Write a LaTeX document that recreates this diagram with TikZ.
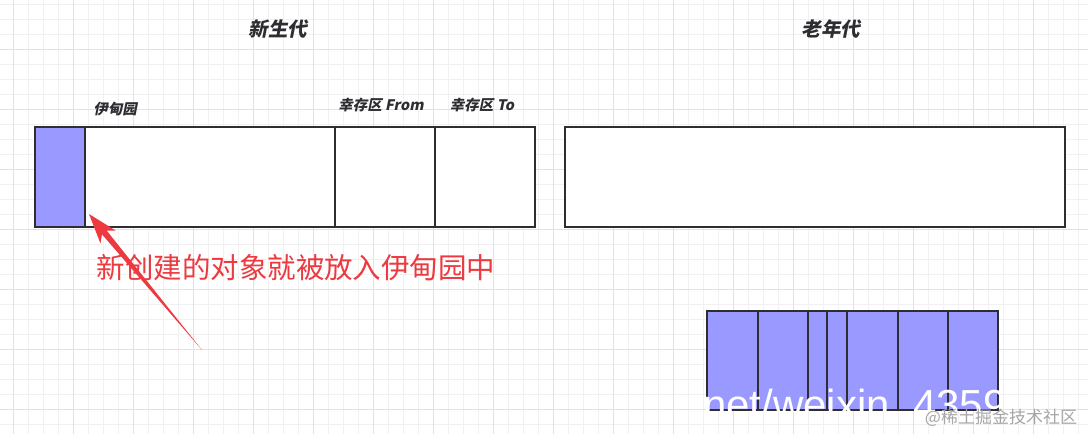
\documentclass[tikz,border=0pt]{standalone}
\usepackage{fontspec}
\setmainfont{Liberation Sans}
\newfontfamily\cjk{Noto Sans CJK SC}
\newfontfamily\cjkslant{Noto Sans CJK SC}[FakeSlant=0.2]
\usetikzlibrary{calc}

\definecolor{objblue}{RGB}{153,153,255}
\definecolor{boxline}{RGB}{45,45,50}
\definecolor{notered}{RGB}{236,58,64}
\definecolor{gridminor}{RGB}{241,241,241}
\definecolor{gridmajor}{RGB}{226,226,226}

\begin{document}
\begin{tikzpicture}[x=1pt,y=-1pt,
  region/.style={draw=boxline,line width=2pt,rectangle,inner sep=0pt,minimum height=100pt},
  title/.style={font=\cjkslant\bfseries\fontsize{19.5}{19.5}\selectfont,text=boxline},
  zone/.style={font=\cjkslant\bfseries\fontsize{14.5}{14.5}\selectfont,text=boxline}]

  % background grid
  \fill[white] (0,0) rectangle (1088,434);
  \useasboundingbox (0,0) rectangle (1088,434);
  \foreach \x in {-2,13,...,1088} \draw[gridminor,line width=1pt] (\x,0) -- (\x,434);
  \foreach \y in {4,19,...,434} \draw[gridminor,line width=1pt] (0,\y) -- (1088,\y);
  \foreach \x in {13,73,...,1088} \draw[gridmajor,line width=1pt] (\x,0) -- (\x,434);
  \foreach \y in {49,109,...,434} \draw[gridmajor,line width=1pt] (0,\y) -- (1088,\y);

  \node[title] (young) at (278,29) {新生代};
  \node[title] (tenured) at (831,29) {老年代};

  \node[region,fill=white,minimum width=500pt] (younggen) at (285,177) {};
  \node[region,fill=objblue,minimum width=50pt] (newobj) at (60,177) {};
  \node[region,minimum width=250pt] (eden) at (210,177) {};
  \node[region,minimum width=100pt] (from) at (385,177) {};
  \node[region,minimum width=100pt] (to) at (485,177) {};
  \node[region,fill=white,minimum width=500pt] (oldgen) at (815,177) {};

  \node[zone] (edenlbl) at (115,109) {伊甸园};
  \node[zone] (fromlbl) at (381,105) {幸存区 From};
  \node[zone] (tolbl) at (482,105) {幸存区 To};

  % objects already in the old generation
  \foreach \a/\b in {707/758,758/808,808/827,827/847,847/898,898/948,948/998}
    \draw[boxline,line width=2pt,fill=objblue] (\a,311) rectangle (\b,410);

  \node[font=\cjk\fontsize{28.5}{28.5}\selectfont,text=notered] (note) at (296,268) {新创建的对象就被放入伊甸园中};

  % tapered arrow
  \coordinate (tail) at (202,350);
  \coordinate (tip) at ($(newobj.south east)+(3,-14)$);
  \coordinate (neck) at ($(tip)!24pt!(tail)$);
  \coordinate (barb) at ($(tip)!30pt!(tail)$);
  \fill[notered] (tip) -- ($(barb)!10pt!90:(tail)$) -- ($(neck)!3pt!90:(tail)$)
    -- (tail) -- ($(neck)!3pt!-90:(tail)$) -- ($(barb)!10pt!-90:(tail)$) -- cycle;

  % watermarks
  \begin{scope}
    \clip (706,300) rectangle (999,411);
    \node[anchor=base west,font=\fontsize{42}{42}\selectfont,text=white,inner sep=0pt] (wmark) at (703,419) {net/weixin\_43591};
  \end{scope}
  \node[font=\cjk\fontsize{17}{17}\selectfont,text=black!35] (juejin) at (1001,418) {@稀土掘金技术社区};
\end{tikzpicture}
\end{document}
